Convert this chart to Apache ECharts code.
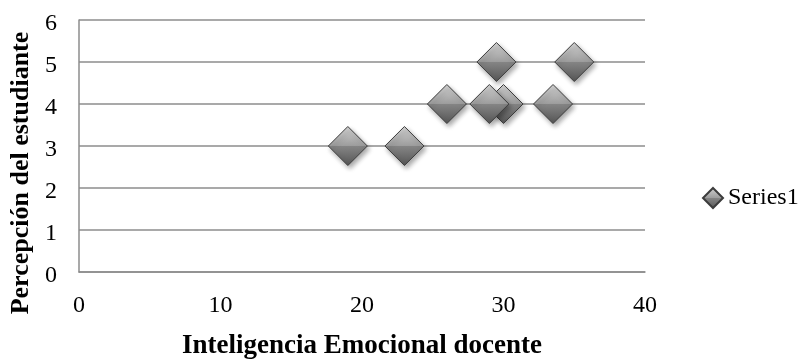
<!DOCTYPE html>
<html>
<head>
	<meta charset="UTF-8">
	<title>Scatter</title>
	<script src="https://cdn.jsdelivr.net/npm/echarts@6/dist/echarts.min.js"></script>
	<style type="text/css">
		body{ margin:0px; background-color:#FFFFFF; }
		#container{ width:803px; height:361px; }
	</style>
</head>
<body>
<div id="container"></div>
<script type="text/javascript">

// values
var seriesName = 'Series1';
var xValues = [19, 23, 26, 30, 29, 33.5, 29.5, 35];
var yValues = [3, 3, 4, 4, 4, 4, 5, 5];
var xTicks = { min: 0, max: 40, interval: 10 };
var yTicks = { min: 0, max: 6, interval: 1 };
var xTitle = 'Inteligencia Emocional docente';
var yTitle = 'Percepción del estudiante';

var points = [];
for (var i = 0; i < xValues.length; i++) {
	points.push([xValues[i], yValues[i]]);
}

var fontName = "'Liberation Serif', 'DejaVu Serif', serif";

// diamond fill: lighter upper half, darker lower half
var markFill = new echarts.graphic.LinearGradient(0, 0, 0, 1, [
	{ offset: 0, color: '#d4d4d4' },
	{ offset: 0.5, color: '#9c9c9c' },
	{ offset: 0.5, color: '#858585' },
	{ offset: 1, color: '#555555' }
]);

var myChart = echarts.init(document.getElementById('container'));
var option = {
	animation: false,
	textStyle: { fontFamily: fontName },
	grid: {
		left: 79, right: 158, top: 20, bottom: 89,
		containLabel: false,
		outerBoundsMode: 'none'
	},
	legend: {
		orient: 'vertical',
		left: 697,
		top: 181,
		icon: 'diamond',
		itemWidth: 20,
		itemHeight: 20,
		itemGap: 4,
		textStyle: { fontFamily: fontName, fontSize: 24, color: '#000' },
		data: [seriesName]
	},
	xAxis: {
		type: 'value',
		min: xTicks.min, max: xTicks.max, interval: xTicks.interval,
		name: xTitle,
		nameLocation: 'middle',
		nameGap: 61,
		nameTextStyle: { fontFamily: fontName, fontSize: 27, fontWeight: 'bold', color: '#000' },
		axisLine: { show: true, lineStyle: { color: '#8c8c8c', width: 1.5 } },
		axisTick: { show: false },
		axisLabel: { margin: 22, fontFamily: fontName, fontSize: 24, color: '#000' },
		splitLine: { show: false }
	},
	yAxis: {
		type: 'value',
		min: yTicks.min, max: yTicks.max, interval: yTicks.interval,
		name: yTitle,
		nameLocation: 'middle',
		nameGap: 41,
		nameTextStyle: {
			fontFamily: fontName, fontSize: 26, fontWeight: 'bold', color: '#000',
			padding: [0, 54, 0, 0]
		},
		axisLine: { show: true, lineStyle: { color: '#8c8c8c', width: 1.5 } },
		axisTick: { show: false },
		axisLabel: {
			margin: 22,
			formatter: '{t|{value}}',
			rich: {
				t: { fontFamily: fontName, fontSize: 24, color: '#000', padding: [7, 0, 0, 0] }
			}
		},
		splitLine: { show: true, lineStyle: { color: '#8c8c8c', width: 1.5 } }
	},
	series: [{
		name: seriesName,
		type: 'scatter',
		symbol: 'diamond',
		symbolSize: 39,
		data: points,
		itemStyle: {
			color: markFill,
			borderColor: '#3c3c3c',
			borderWidth: 1,
			opacity: 1,
			shadowBlur: 5,
			shadowOffsetX: 2,
			shadowOffsetY: 3,
			shadowColor: 'rgba(0,0,0,0.35)'
		},
		emphasis: { disabled: true }
	}]
};

myChart.setOption(option, true);

window.onresize = function() {
	myChart.resize();
};

</script>
</body>
</html>
